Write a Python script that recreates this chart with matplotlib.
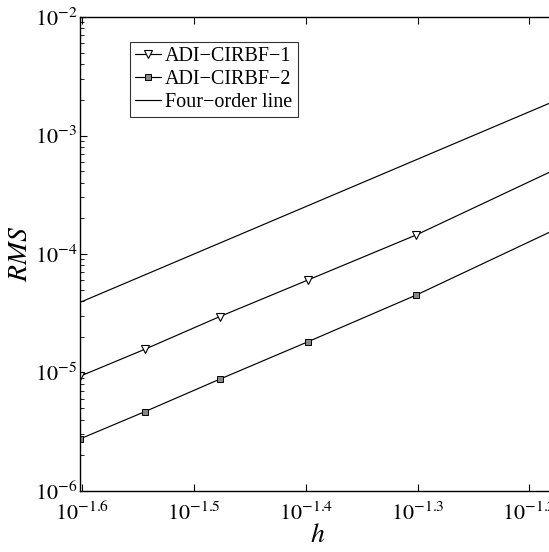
import math
import matplotlib
matplotlib.use("Agg")
import matplotlib.pyplot as plt
from matplotlib.ticker import FixedLocator, FuncFormatter, LogLocator, NullLocator

plt.rcParams['font.family'] = ['Liberation Serif', 'DejaVu Serif']
plt.rcParams['mathtext.fontset'] = 'stix'

# data
h = [1/40, 1/35, 1/30, 1/25, 1/20, 1/15]
rms1 = [9.3e-6, 1.57e-5, 2.96e-5, 6.04e-5, 1.45e-4, 5.2e-4]
rms2 = [2.75e-6, 4.67e-6, 8.77e-6, 1.82e-5, 4.51e-5, 1.62e-4]
h_line = [1/40, 1/15]
four_order = [3.906e-5, 1.975e-3]
xtick_exp = [-1.6, -1.5, -1.4, -1.3, -1.2]
labels = ['ADI\u2212CIRBF\u22121', 'ADI\u2212CIRBF\u22122', 'Four\u2212order line']

W, H = 549, 552
fig = plt.figure(figsize=(W/100, H/100), dpi=100)
ax = fig.add_axes([80/W, (H-491)/H, (556-80)/W, (491-17)/H])

ax.plot(h, rms1, '-', color='black', lw=0.85, marker='v', ms=5.5,
        mfc='white', mec='black', mew=0.8, label=labels[0])
ax.plot(h, rms2, '-', color='black', lw=0.85, marker='s', ms=4,
        mfc='#888888', mec='black', mew=0.7, label=labels[1])
ax.plot(h_line, four_order, '-', color='black', lw=0.85, label=labels[2])

ax.set_xscale('log')
ax.set_yscale('log')
ax.set_xlim(1/40, 1/15)
ax.set_ylim(1e-6, 1e-2)

ax.xaxis.set_major_locator(FixedLocator([10**e for e in xtick_exp]))
ax.xaxis.set_major_formatter(FuncFormatter(lambda v, p: r'$10^{%.1f}$' % math.log10(v)))
ax.xaxis.set_minor_locator(NullLocator())
ax.yaxis.set_major_locator(LogLocator(base=10, numticks=10))
ax.yaxis.set_minor_locator(LogLocator(base=10, subs=range(2, 10), numticks=20))
ax.yaxis.set_major_formatter(FuncFormatter(lambda v, p: r'$10^{%d}$' % round(math.log10(v))))

ax.tick_params(which='both', direction='in', top=True, right=True, labelsize=16)
ax.tick_params(which='major', length=5, width=0.8)
ax.tick_params(which='minor', length=3, width=0.6)
ax.tick_params(axis='x', pad=8)
ax.tick_params(axis='y', pad=2)
for s in ax.spines.values():
    s.set_linewidth(1.0)

ax.set_xlabel(r'$h$', fontsize=20)
ax.set_ylabel(r'$RMS$', fontsize=20)
ax.xaxis.set_label_coords(0.5, -0.068)
ax.yaxis.set_label_coords(-0.098, 0.5)

leg = ax.legend(loc='upper left', bbox_to_anchor=((130-80)/(556-80), (491-42)/(491-17)),
                frameon=True, fancybox=False, edgecolor='black', fontsize=14.5,
                handlelength=1.3, handletextpad=0.2, borderpad=0.25, labelspacing=0.2,
                borderaxespad=0)
leg.get_frame().set_linewidth(0.8)

fig.savefig('out.png', dpi=100)
